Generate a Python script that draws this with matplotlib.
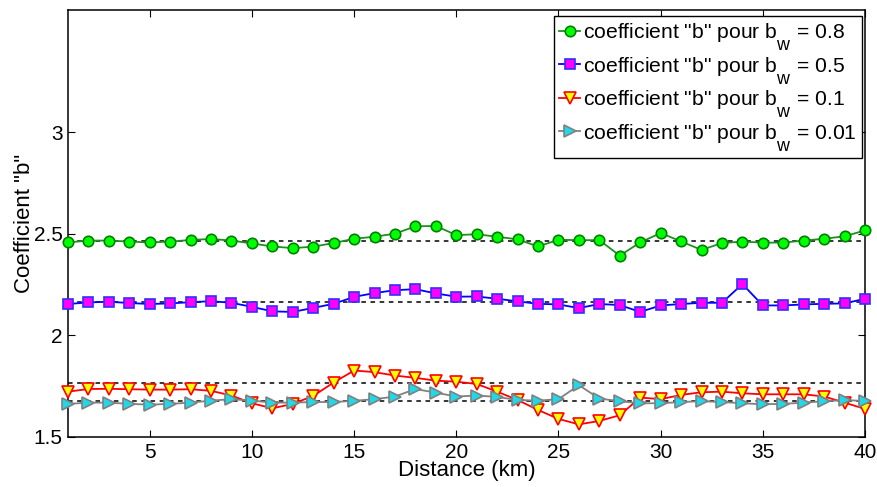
import matplotlib
matplotlib.use("Agg")
import matplotlib.pyplot as plt
import matplotlib._mathtext as _mt
import numpy as np

plt.rcParams['font.family'] = ['Liberation Sans', 'DejaVu Sans']
# MATLAB-like subscripts: larger and lower
_mt.SHRINK_FACTOR = 0.85
_mt.FontConstantsBase.sub1 = 1.0

distance = list(range(1, 41))

b_08 = [2.457, 2.466, 2.466, 2.461, 2.457, 2.461, 2.469, 2.474, 2.466, 2.452,
        2.437, 2.429, 2.436, 2.454, 2.475, 2.485, 2.500, 2.536, 2.538, 2.493,
        2.497, 2.485, 2.472, 2.437, 2.470, 2.468, 2.468, 2.392, 2.457, 2.503,
        2.462, 2.420, 2.454, 2.461, 2.456, 2.456, 2.466, 2.475, 2.487, 2.516]

b_05 = [2.154, 2.162, 2.165, 2.159, 2.154, 2.157, 2.163, 2.168, 2.160, 2.140,
        2.118, 2.115, 2.135, 2.155, 2.189, 2.208, 2.222, 2.227, 2.206, 2.190,
        2.191, 2.180, 2.167, 2.155, 2.152, 2.134, 2.154, 2.149, 2.115, 2.147,
        2.154, 2.160, 2.160, 2.252, 2.147, 2.147, 2.152, 2.155, 2.157, 2.180]

b_01 = [1.723, 1.736, 1.737, 1.735, 1.733, 1.733, 1.735, 1.727, 1.704, 1.666,
        1.641, 1.663, 1.702, 1.768, 1.827, 1.819, 1.802, 1.791, 1.777, 1.772,
        1.761, 1.723, 1.682, 1.633, 1.589, 1.562, 1.579, 1.607, 1.694, 1.686,
        1.707, 1.720, 1.723, 1.715, 1.710, 1.710, 1.710, 1.699, 1.669, 1.638]

b_001 = [1.663, 1.669, 1.669, 1.663, 1.659, 1.663, 1.669, 1.679, 1.686, 1.679,
         1.669, 1.669, 1.672, 1.672, 1.678, 1.686, 1.699, 1.736, 1.718, 1.699,
         1.704, 1.697, 1.682, 1.679, 1.686, 1.755, 1.689, 1.676, 1.666, 1.666,
         1.672, 1.676, 1.672, 1.666, 1.661, 1.663, 1.669, 1.676, 1.682, 1.677]

reference_levels = [2.466, 2.166, 1.766, 1.677]

labels = [r'coefficient "b" pour b$_\mathregular{w}$ = 0.8',
          r'coefficient "b" pour b$_\mathregular{w}$ = 0.5',
          r'coefficient "b" pour b$_\mathregular{w}$ = 0.1',
          r'coefficient "b" pour b$_\mathregular{w}$ = 0.01']

xticks = [5, 10, 15, 20, 25, 30, 35, 40]
yticks = [1.5, 2, 2.5, 3]
ytick_labels = ['1.5', '2', '2.5', '3']

fig = plt.figure(figsize=(8.77, 4.87), dpi=100)
ax = fig.add_axes([68/877, 50/487, (865-68)/877, (437-10)/487])

styles = [
    dict(color='#1f8f1f', marker='o', mfc='#00ff00', mec='#008000', ms=7.5),
    dict(color='#0000ff', marker='s', mfc='#ff00ff', mec='#3030ff', ms=6.5),
    dict(color='#ff0000', marker='v', mfc='#ffff00', mec='#ff0000', ms=8),
    dict(color='#808080', marker='>', mfc='#20d8e8', mec='#808080', ms=8),
]

for lvl in reference_levels:
    ax.plot([distance[0], distance[-1]], [lvl, lvl], color='black', ls=(0, (3, 3)), lw=1.1, zorder=1)

for series, st, lab in zip([b_08, b_05, b_01, b_001], styles, labels):
    ax.plot(distance, series, lw=1.3, mew=1.2, label=lab, zorder=3, clip_on=False, **st)

ax.set_xlim(1, 40)
ax.set_ylim(1.5, 3.6)
ax.set_xticks(xticks)
ax.set_yticks(yticks)
ax.set_yticklabels(ytick_labels)
ax.tick_params(direction='in', length=5, width=0.8, top=True, right=True, labelsize=15, pad=4)
for sp in ax.spines.values():
    sp.set_linewidth(1.1)
ax.set_xlabel('Distance (km)', fontsize=16, labelpad=-1)
ax.set_ylabel('Coefficient "b"', fontsize=16, labelpad=-1)

leg = ax.legend(loc='upper right', bbox_to_anchor=(0.9965, 0.986), fontsize=15.2,
                frameon=True, fancybox=False, edgecolor='black', framealpha=1,
                handlelength=1.0, handletextpad=0.15, labelspacing=0.12,
                borderpad=0.25, borderaxespad=0)
leg.get_frame().set_linewidth(1.0)
leg.set_zorder(5)

fig.savefig('out.png', dpi=100)
